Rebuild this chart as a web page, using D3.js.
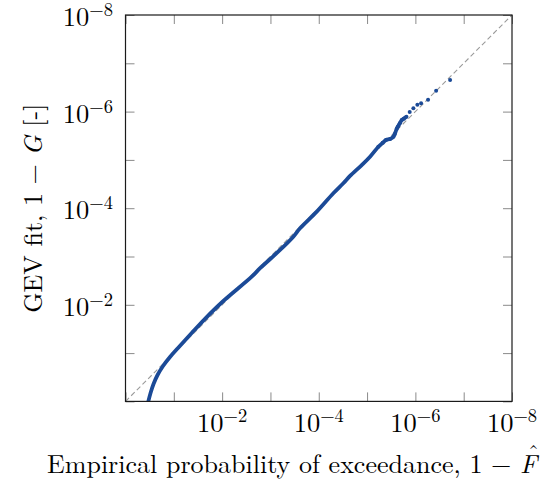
<!DOCTYPE html>
<html>
<head>
<meta charset="utf-8">
<script src="https://cdn.jsdelivr.net/npm/d3@7"></script>
<style>
  body { margin: 0; background: #fff; }
  text { font-family: "Latin Modern Roman", "CMU Serif", "Liberation Serif", serif; fill: #000; }
</style>
</head>
<body>
<div class="output"><svg width="546" height="487"></svg></div>
<script>
// empirical exceedance 1-F and fitted 1-G
var empProb = [0.337, 0.303, 0.263, 0.217, 0.167, 0.120, 0.0818, 0.0426, 0.0226, 0.0102,
  2.44e-3, 1.64e-3, 6.32e-4, 3.36e-4, 2.44e-4, 1.10e-4, 4.99e-5, 3.10e-5, 2.25e-5,
  1.29e-5, 8.67e-6, 5.83e-6, 4.73e-6, 4.05e-6, 3.34e-6, 2.85e-6, 2.67e-6, 2.43e-6,
  2.31e-6, 2.10e-6, 1.91e-6, 1.74e-6, 1.53e-6, 1.31e-6, 1.10e-6, 9.10e-7, 7.62e-7,
  5.46e-7, 3.72e-7, 1.91e-7]
var gevProb = [1.0, 0.670, 0.436, 0.284, 0.185, 0.1205, 0.0784, 0.0384, 0.0195, 8.96e-3,
  2.62e-3, 1.75e-3, 7.33e-4, 3.89e-4, 2.61e-4, 1.18e-4, 4.91e-5, 3.05e-5, 2.15e-5,
  1.28e-5, 8.59e-6, 5.33e-6, 4.41e-6, 3.87e-6, 3.69e-6, 3.31e-6, 2.91e-6, 2.26e-6,
  2.06e-6, 1.75e-6, 1.49e-6, 1.40e-6, 1.28e-6, 1.02e-6, 8.55e-7, 7.19e-7, 6.73e-7,
  5.68e-7, 3.69e-7, 2.22e-7]

// the dense part is drawn as a line, the tail as single markers
var lineCount = 33
var dotStart = 21

var tickVals = [1, 1e-1, 1e-2, 1e-3, 1e-4, 1e-5, 1e-6, 1e-7, 1e-8]
var labelVals = [1e-2, 1e-4, 1e-6, 1e-8]
var labelExp = ["\u22122", "\u22124", "\u22126", "\u22128"]
var axisRange = [1, 1e-8]

var blue = "#1b4a97"

var svg = d3.select("div.output svg")

// (no "top" here: window.top is read only)
var pLeft = 125.5, pRight = 512, pTop = 15, pBottom = 401.4

var x = d3.scaleLog().domain(axisRange).range([pLeft, pRight])
var y = d3.scaleLog().domain(axisRange).range([pBottom, pTop])

svg.append("clipPath").attr("id", "plot")
  .append("rect")
    .attr("x", pLeft).attr("y", pTop)
    .attr("width", pRight - pLeft).attr("height", pBottom - pTop)

// ticks, pointing inward on all four sides
function ticks(g) {
  g.select(".domain").remove()
  g.selectAll(".tick line").attr("stroke", "#8a8a8a").attr("stroke-width", 1)
}
svg.append("g").attr("transform", "translate(0," + pBottom + ")")
  .call(d3.axisBottom(x).tickValues(tickVals).tickSize(-9).tickFormat(""))
  .call(ticks)
svg.append("g").attr("transform", "translate(0," + pTop + ")")
  .call(d3.axisTop(x).tickValues(tickVals).tickSize(-9).tickFormat(""))
  .call(ticks)
svg.append("g").attr("transform", "translate(" + pLeft + ",0)")
  .call(d3.axisLeft(y).tickValues(tickVals).tickSize(-9).tickFormat(""))
  .call(ticks)
svg.append("g").attr("transform", "translate(" + pRight + ",0)")
  .call(d3.axisRight(y).tickValues(tickVals).tickSize(-9).tickFormat(""))
  .call(ticks)

// diagonal 1-G = 1-F
svg.append("line")
  .attr("x1", x(axisRange[0])).attr("y1", y(axisRange[0]))
  .attr("x2", x(axisRange[1])).attr("y2", y(axisRange[1]))
  .attr("stroke", "#9a9a9a")
  .attr("stroke-width", 1.1)
  .attr("stroke-dasharray", "5,3")

var pts = empProb.map(function(d, i) { return [d, gevProb[i]] })

var line = d3.line()
  .x(function(d) { return x(d[0]) })
  .y(function(d) { return y(d[1]) })
  .curve(d3.curveCatmullRom.alpha(0.5))

svg.append("path")
  .datum(pts.slice(0, lineCount))
  .attr("clip-path", "url(#plot)")
  .attr("d", line)
  .attr("fill", "none")
  .attr("stroke", blue)
  .attr("stroke-width", 3.8)
  .attr("stroke-linejoin", "round")

svg.selectAll("circle.tail")
  .data(pts.slice(dotStart))
  .enter().append("circle")
    .attr("class", "tail")
    .attr("cx", function(d) { return x(d[0]) })
    .attr("cy", function(d) { return y(d[1]) })
    .attr("r", 2)
    .style("fill", blue)

// frame
svg.append("rect")
  .attr("x", pLeft).attr("y", pTop)
  .attr("width", pRight - pLeft).attr("height", pBottom - pTop)
  .attr("fill", "none")
  .attr("stroke", "#1a1a1a")
  .attr("stroke-width", 1.2)

// tick labels 10^-k
function powerLabel(t, i) {
  t.append("tspan").attr("font-size", 26.5).text("10")
  t.append("tspan").attr("font-size", 18.5).attr("dy", -10).text(labelExp[i])
}
svg.selectAll("text.xlab")
  .data(labelVals)
  .enter().append("text")
    .attr("class", "xlab")
    .attr("x", function(d) { return x(d) })
    .attr("y", 432)
    .attr("text-anchor", "middle")
    .each(function(d, i) { powerLabel(d3.select(this), i) })

svg.selectAll("text.ylab")
  .data(labelVals)
  .enter().append("text")
    .attr("class", "ylab")
    .attr("x", 113)
    .attr("y", function(d) { return y(d) + 11 })
    .attr("text-anchor", "end")
    .each(function(d, i) { powerLabel(d3.select(this), i) })

// axis titles
var xt = svg.append("text")
  .attr("x", 292).attr("y", 473)
  .attr("text-anchor", "middle")
  .attr("font-size", 26)
xt.append("tspan").text("Empirical probability of exceedance, 1 \u2212 ")
var fSpan = xt.append("tspan").attr("font-style", "italic").text("F")

// hat over the F
var xtBox = xt.node().getBBox()
var fW = fSpan.node().getComputedTextLength()
svg.append("text")
  .attr("x", xtBox.x + xtBox.width - fW / 2 + 2)
  .attr("y", 473 - 13)
  .attr("text-anchor", "middle")
  .attr("font-size", 22)
  .text("\u02C6")

var yt = svg.append("text")
  .attr("transform", "translate(42," + ((pTop + pBottom) / 2) + ") rotate(-90)")
  .attr("text-anchor", "middle")
  .attr("font-size", 26)
yt.append("tspan").text("GEV fit, 1 \u2212 ")
yt.append("tspan").attr("font-style", "italic").text("G")
yt.append("tspan").text(" [-]")
</script>
</body>
</html>
